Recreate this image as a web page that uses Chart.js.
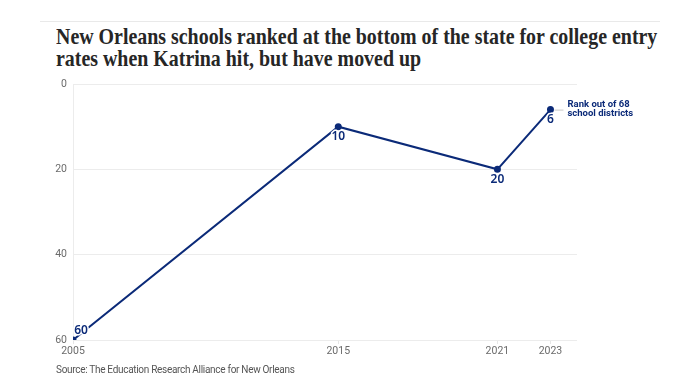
<!DOCTYPE html>
<html>
<head>
<meta charset="utf-8">
<script src="https://cdn.jsdelivr.net/npm/chart.js@4"></script>
<style>
  body { margin: 0; background: #fff; }
  #wrap { position: relative; width: 700px; height: 389px; overflow: hidden; }
  #rule { position: absolute; left: 40px; top: 21px; width: 620px; height: 1px; background: #e9e9e9; }
  #title {
    position: absolute; left: 56px; top: 26px; width: 760px;
    font-family: "Liberation Serif", serif; font-weight: bold;
    font-size: 22.5px; line-height: 22px; color: #262626;
    transform: scaleX(0.885); transform-origin: left top;
  }
  #source {
    position: absolute; left: 56px; top: 364px;
    font-family: Roboto, sans-serif; font-size: 10px; color: #555;
    letter-spacing: -0.3px;
  }
  canvas { position: absolute; left: 0; top: 0; }
</style>
</head>
<body>
<div id="wrap">
  <div id="rule"></div>
  <div id="title">New Orleans schools ranked at the bottom of the state for college entry<br>rates when Katrina hit, but have moved up</div>
  <canvas id="myChart" width="700" height="389"></canvas>
  <div id="source">Source: The Education Research Alliance for New Orleans</div>
</div>
<script>
const years = [2005, 2015, 2021, 2023];
const ranks = [60, 10, 20, 6];
const yTicks = [0, 20, 40, 60];
const noteLines = ['Rank out of 68', 'school districts'];

const navy = '#0b2a78';
const ctx = document.getElementById('myChart').getContext('2d');

const pointLabels = {
    id: 'pointLabels',
    afterDatasetsDraw(chart) {
        const c = chart.ctx;
        const meta = chart.getDatasetMeta(0);
        c.save();
        c.font = '600 12px "Noto Sans", sans-serif';
        c.textAlign = 'center';
        c.textBaseline = 'middle';
        c.lineJoin = 'round';
        meta.data.forEach((pt, i) => {
            const lx = i === 0 ? pt.x + 8 : pt.x;
            const ly = i === 0 ? pt.y - 9 : pt.y + 10;
            c.strokeStyle = '#fff';
            c.lineWidth = 3;
            c.strokeText(String(ranks[i]), lx, ly);
            c.fillStyle = navy;
            c.fillText(String(ranks[i]), lx, ly);
        });
        // note next to the last point
        const last = meta.data[meta.data.length - 1];
        c.strokeStyle = '#c8c8c8';
        c.lineWidth = 1;
        c.beginPath();
        c.moveTo(last.x + 4, last.y + 0.5);
        c.lineTo(last.x + 13, last.y + 0.5);
        c.stroke();
        c.font = 'bold 9.5px Roboto, sans-serif';
        c.textAlign = 'left';
        c.fillStyle = navy;
        noteLines.forEach((t, k) => {
            c.fillText(t, last.x + 17, last.y - 5 + k * 9);
        });
        c.restore();
    }
};

new Chart(ctx, {
    type: 'line',
    data: {
        datasets: [{
            data: years.map((y, i) => ({ x: y, y: ranks[i] })),
            borderColor: navy,
            backgroundColor: navy,
            borderWidth: 2,
            pointRadius: 2.5,
            pointHoverRadius: 2.5,
            tension: 0
        }]
    },
    options: {
        responsive: false,
        animation: false,
        layout: { padding: { left: 0, top: 84, right: 123, bottom: 0 } },
        plugins: { legend: { display: false }, tooltip: { enabled: false } },
        scales: {
            x: {
                type: 'linear',
                min: 2005,
                max: 2024,
                afterBuildTicks: (s) => { s.ticks = years.map(v => ({ value: v })); },
                afterFit: (s) => { s.height = 49; },
                grid: { drawOnChartArea: false, color: '#e6e6e6', tickLength: 4 },
                border: { display: false },
                ticks: {
                    color: '#6b6b6b',
                    font: { family: 'Roboto', size: 10.5 },
                    padding: 1,
                    maxRotation: 0,
                    autoSkip: false,
                    callback: (v) => String(v)
                }
            },
            y: {
                min: 0,
                max: 60,
                reverse: true,
                afterBuildTicks: (s) => { s.ticks = yTicks.map(v => ({ value: v })); },
                afterFit: (s) => { s.width = 73; },
                grid: { color: '#ececec', drawTicks: false },
                border: { color: '#ececec' },
                ticks: {
                    color: '#6b6b6b',
                    font: { family: 'Roboto', size: 10.5 },
                    padding: 6
                }
            }
        }
    },
    plugins: [pointLabels]
});
</script>
</body>
</html>
